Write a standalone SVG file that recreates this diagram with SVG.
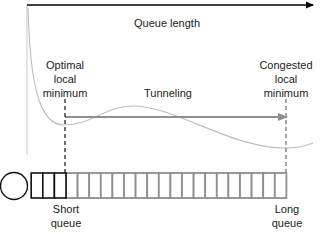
<svg xmlns="http://www.w3.org/2000/svg" width="320" height="234" viewBox="0 0 320 234">
<style>
text{font-family:"Liberation Sans",Arial,sans-serif;font-size:11px;fill:#222;text-anchor:middle}
.bk{fill:#fff;stroke:#111;stroke-width:1.6}
.gr{fill:#fff;stroke:#8c9090;stroke-width:1.8}
</style>
<defs>
<marker id="ab" markerWidth="8" markerHeight="8" refX="7" refY="4" orient="auto" markerUnits="userSpaceOnUse"><path d="M0,0.5 L8,4 L0,7.5 Z" fill="#000"/></marker>
<marker id="ag" markerWidth="10" markerHeight="10" refX="9" refY="5" orient="auto" markerUnits="userSpaceOnUse"><path d="M0,1 L10,5 L0,9 Z" fill="#8c9090"/></marker>
</defs>
<g id="axes">
<line x1="27" y1="5" x2="27" y2="155" stroke="#c8c8c8" stroke-width="1"/>
<line x1="27" y1="5" x2="313" y2="5" stroke="#000" stroke-width="1.6" marker-end="url(#ab)"/>
</g>
<g id="curve">
<path d="M28,8 C30,80 38,125 64,125 C92,125 105,106 133,106 C175,106 230,148 285,148 C298,148 306,146 313,143" fill="none" stroke="#bdbdbd" stroke-width="1.1"/>
</g>
<g id="connectors">
<line x1="65" y1="117" x2="287" y2="117" stroke="#8c9090" stroke-width="2" marker-end="url(#ag)"/>
<line x1="65" y1="99" x2="65" y2="173" stroke="#111" stroke-width="1.2" stroke-dasharray="4,3"/>
<line x1="286" y1="99" x2="286" y2="173" stroke="#8c9090" stroke-width="1.6" stroke-dasharray="4,3"/>
</g>
<g id="labels">
<text x="167" y="27">Queue length</text>
<text x="65" y="69">Optimal</text>
<text x="65" y="83">local</text>
<text x="65" y="97">minimum</text>
<text x="168" y="97">Tunneling</text>
<text x="286" y="69">Congested</text>
<text x="286" y="83">local</text>
<text x="286" y="97">minimum</text>
<text x="66" y="213">Short</text>
<text x="66" y="227">queue</text>
<text x="287" y="213">Long</text>
<text x="287" y="227">queue</text>
</g>
<g id="server">
<circle cx="14" cy="186" r="13.5" fill="#fff" stroke="#111" stroke-width="1.4"/>
</g>
<g id="queue">
<rect class="gr" x="66.0" y="173" width="11.6" height="25"/>
<rect class="gr" x="77.6" y="173" width="11.6" height="25"/>
<rect class="gr" x="89.2" y="173" width="11.6" height="25"/>
<rect class="gr" x="100.8" y="173" width="11.6" height="25"/>
<rect class="gr" x="112.4" y="173" width="11.6" height="25"/>
<rect class="gr" x="124.0" y="173" width="11.6" height="25"/>
<rect class="gr" x="135.6" y="173" width="11.6" height="25"/>
<rect class="gr" x="147.2" y="173" width="11.6" height="25"/>
<rect class="gr" x="158.8" y="173" width="11.6" height="25"/>
<rect class="gr" x="170.4" y="173" width="11.6" height="25"/>
<rect class="gr" x="182.0" y="173" width="11.6" height="25"/>
<rect class="gr" x="193.6" y="173" width="11.6" height="25"/>
<rect class="gr" x="205.2" y="173" width="11.6" height="25"/>
<rect class="gr" x="216.8" y="173" width="11.6" height="25"/>
<rect class="gr" x="228.4" y="173" width="11.6" height="25"/>
<rect class="gr" x="240.0" y="173" width="11.6" height="25"/>
<rect class="gr" x="251.6" y="173" width="11.6" height="25"/>
<rect class="gr" x="263.2" y="173" width="11.6" height="25"/>
<rect class="gr" x="274.8" y="173" width="11.6" height="25"/>
<rect class="bk" x="31.2" y="173" width="11.6" height="25"/>
<rect class="bk" x="42.8" y="173" width="11.6" height="25"/>
<rect class="bk" x="54.4" y="173" width="11.6" height="25"/>
</g>
</svg>
